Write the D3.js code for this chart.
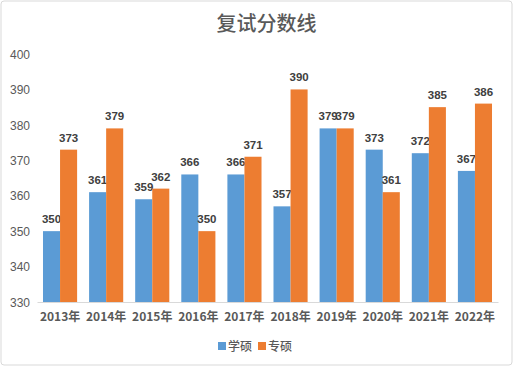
<!DOCTYPE html>
<html><head><meta charset="utf-8">
<script src="https://cdn.jsdelivr.net/npm/d3@7"></script>
<style>body{margin:0;background:#fff}svg{display:block}</style>
</head><body>
<script>
const categories = ["2013年","2014年","2015年","2016年","2017年","2018年","2019年","2020年","2021年","2022年"];
const seriesNames = ["学硕","专硕"];
const xueshuo = [350,361,359,366,366,357,379,373,372,367];
const zhuanshuo = [373,379,362,350,371,390,379,361,385,386];
const yTicks = [330,340,350,360,370,380,390,400];
const colors = ["#5b9bd5","#ed7d31"];
const title = "复试分数线";

const W=513,H=366;
const svg=d3.select("body").append("svg").attr("width",W).attr("height",H);
svg.append("rect").attr("x",1).attr("y",1).attr("width",W-2).attr("height",H-2).attr("rx",3)
  .attr("fill","#fff").attr("stroke","#d9d9d9").attr("stroke-width",1);
const font="'Noto Sans CJK SC','Microsoft YaHei',sans-serif";
svg.append("text").attr("x",W/2+10).attr("y",31).attr("text-anchor","middle")
  .attr("font-family",font).attr("font-size",20).attr("font-weight",500).attr("fill","#595959").text(title);

const x0=d3.scaleBand().domain(categories).range([37,498]).paddingInner(0.26).paddingOuter(0.13);
const x1=d3.scaleBand().domain(seriesNames).range([0,x0.bandwidth()]);
const y=d3.scaleLinear().domain([330,400]).range([302,54]);

const ya=d3.axisLeft(y).tickValues(yTicks).tickSize(0).tickPadding(0);
const yg=svg.append("g").attr("transform","translate(30,0)").call(ya);
yg.select(".domain").remove();
yg.selectAll("text").attr("font-family","'Liberation Sans',Arial,sans-serif").attr("font-size",12)
  .attr("fill","#595959").attr("text-anchor","end").attr("dy","0.35em");

const data=[xueshuo,zhuanshuo];
categories.forEach((c,i)=>{
  seriesNames.forEach((s,j)=>{
    const v=data[j][i];
    svg.append("rect").attr("x",x0(c)+x1(s)).attr("y",y(v)).attr("width",x1.bandwidth())
      .attr("height",y(330)-y(v)).attr("fill",colors[j]);
    svg.append("text").attr("x",x0(c)+x1(s)+x1.bandwidth()/2).attr("y",y(v)-8)
      .attr("text-anchor","middle").attr("font-family","'Liberation Sans',Arial,sans-serif")
      .attr("font-size",11.5).attr("font-weight","bold").attr("fill","#404040").text(v);
  });
});

const xa=d3.axisBottom(x0).tickSize(0).tickPadding(10);
const xg=svg.append("g").attr("transform","translate(0,302)").call(xa);
xg.select(".domain").attr("stroke","#d9d9d9");
xg.selectAll("text").attr("font-family",font).attr("font-size",12).attr("font-weight","bold").attr("fill","#595959");

const lg=svg.append("g").attr("transform","translate(218,347)");
seriesNames.forEach((s,j)=>{
  const g=lg.append("g").attr("transform",`translate(${j*40},0)`);
  g.append("rect").attr("x",0).attr("y",-5).attr("width",8).attr("height",8).attr("fill",colors[j]);
  g.append("text").attr("x",10).attr("y",0).attr("dy","0.35em").attr("font-family",font)
    .attr("font-size",12).attr("font-weight",500).attr("fill","#595959").text(s);
});
</script>
</body></html>
